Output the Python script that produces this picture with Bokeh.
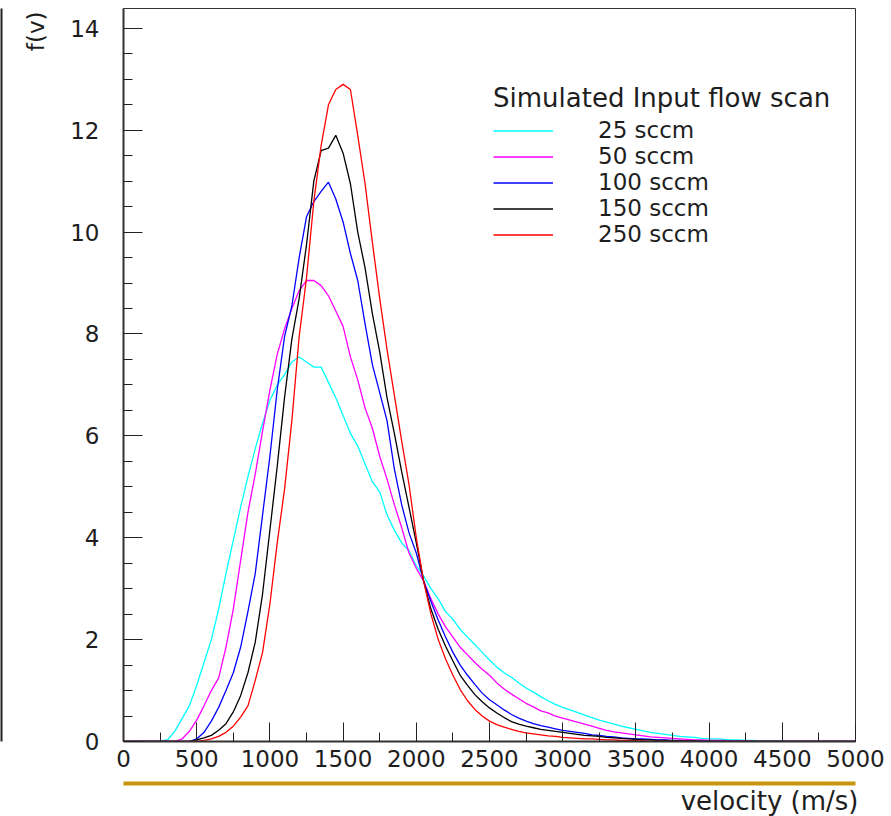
from bokeh.plotting import figure
from bokeh.models import (Legend, LegendItem, SingleIntervalTicker, FixedTicker,
                          LinearAxis, Title, Range1d)
from bokeh.embed import file_html
from bokeh.resources import INLINE

# bin centres (m/s)
velocity = list(range(0, 5001, 50))

f_25sccm = [
    0, 0, 0, 0, 0, 0.01, 0.03, 0.2, 0.45, 0.7,
    1.1, 1.55, 2.0, 2.6, 3.3, 3.95, 4.6, 5.2, 5.75, 6.25,
    6.7, 7.0, 7.2, 7.45, 7.55, 7.45, 7.35, 7.35, 7.05, 6.75,
    6.4, 6.05, 5.8, 5.45, 5.1, 4.9, 4.45, 4.15, 3.9, 3.75,
    3.45, 3.25, 3.0, 2.8, 2.55, 2.4, 2.2, 2.05, 1.9, 1.75,
    1.6, 1.46, 1.35, 1.26, 1.15, 1.05, 0.97, 0.88, 0.8, 0.73,
    0.67, 0.62, 0.57, 0.52, 0.47, 0.42, 0.38, 0.34, 0.3, 0.27,
    0.24, 0.21, 0.18, 0.16, 0.14, 0.12, 0.1, 0.09, 0.08, 0.06,
    0.05, 0.05, 0.04, 0.03, 0.03, 0.02, 0.02, 0.01, 0.01, 0.01,
    0.01, 0, 0, 0, 0, 0, 0, 0, 0, 0,
    0]

f_50sccm = [
    0, 0, 0, 0, 0, 0, 0, 0, 0.05, 0.2,
    0.42, 0.7, 1.0, 1.25, 1.85, 2.6, 3.55, 4.5, 5.25, 6.1,
    6.9, 7.6, 8.1, 8.5, 8.85, 9.05, 9.05, 8.95, 8.75, 8.45,
    8.15, 7.55, 7.1, 6.55, 6.15, 5.6, 5.15, 4.65, 4.2, 3.7,
    3.4, 3.15, 2.8, 2.5, 2.25, 2.05, 1.85, 1.7, 1.55, 1.42,
    1.3, 1.15, 1.03, 0.93, 0.84, 0.75, 0.68, 0.6, 0.56, 0.5,
    0.46, 0.42, 0.38, 0.34, 0.3, 0.26, 0.22, 0.19, 0.17, 0.15,
    0.13, 0.11, 0.09, 0.08, 0.07, 0.06, 0.05, 0.04, 0.03, 0.03,
    0.02, 0.02, 0.02, 0.01, 0.01, 0.01, 0, 0, 0, 0,
    0, 0, 0, 0, 0, 0, 0, 0, 0, 0,
    0]

f_100sccm = [
    0, 0, 0, 0, 0, 0, 0, 0, 0, 0,
    0.05, 0.18, 0.4, 0.67, 1.0, 1.35, 1.85, 2.55, 3.3, 4.45,
    5.6, 6.9, 7.95, 8.55, 9.5, 10.3, 10.6, 10.8, 10.98, 10.65,
    10.2, 9.58, 9.05, 8.2, 7.4, 6.85, 6.3, 5.35, 4.65, 4.1,
    3.7, 3.15, 2.75, 2.38, 2.05, 1.75, 1.5, 1.3, 1.12, 0.95,
    0.82, 0.72, 0.62, 0.53, 0.46, 0.4, 0.35, 0.31, 0.28, 0.25,
    0.22, 0.2, 0.18, 0.16, 0.13, 0.12, 0.1, 0.09, 0.07, 0.06,
    0.05, 0.05, 0.04, 0.03, 0.03, 0.02, 0.02, 0.01, 0.01, 0.01,
    0.01, 0, 0, 0, 0, 0, 0, 0, 0, 0,
    0, 0, 0, 0, 0, 0, 0, 0, 0, 0,
    0]

f_150sccm = [
    0, 0, 0, 0, 0, 0, 0, 0, 0, 0,
    0.03, 0.07, 0.12, 0.22, 0.35, 0.58, 0.9, 1.35, 1.95, 2.9,
    4.15, 5.4, 6.75, 7.9, 8.7, 9.75, 11.0, 11.6, 11.65, 11.9,
    11.55, 10.95, 10.0, 9.3, 8.4, 7.65, 6.75, 6.05, 5.3, 4.6,
    3.9, 3.15, 2.6, 2.2, 1.87, 1.58, 1.3, 1.1, 0.92, 0.78,
    0.66, 0.56, 0.47, 0.39, 0.34, 0.3, 0.27, 0.24, 0.22, 0.2,
    0.18, 0.16, 0.14, 0.12, 0.11, 0.1, 0.08, 0.07, 0.06, 0.05,
    0.04, 0.03, 0.03, 0.02, 0.02, 0.01, 0.01, 0.01, 0.01, 0,
    0, 0, 0, 0, 0, 0, 0, 0, 0, 0,
    0, 0, 0, 0, 0, 0, 0, 0, 0, 0,
    0]

f_250sccm = [
    0, 0, 0, 0, 0, 0, 0, 0, 0, 0,
    0, 0.02, 0.05, 0.1, 0.18, 0.3, 0.48, 0.7, 1.2, 1.75,
    2.7, 3.9, 4.95, 6.3, 7.95, 9.1, 10.6, 11.7, 12.5, 12.8,
    12.9, 12.8, 11.9, 10.95, 9.8, 8.7, 7.7, 6.8, 5.9, 5.05,
    4.0, 3.15, 2.5, 2.0, 1.62, 1.3, 1.02, 0.8, 0.63, 0.5,
    0.4, 0.33, 0.28, 0.24, 0.2, 0.17, 0.15, 0.13, 0.11, 0.1,
    0.08, 0.07, 0.06, 0.05, 0.05, 0.04, 0.03, 0.03, 0.02, 0.02,
    0.01, 0.01, 0, 0, 0, 0, 0, 0, 0, 0,
    0, 0, 0, 0, 0, 0, 0, 0, 0, 0,
    0, 0, 0, 0, 0, 0, 0, 0, 0, 0,
    0]

series_labels = ["25 sccm", "50 sccm", "100 sccm", "150 sccm", "250 sccm"]
series_values = [f_25sccm, f_50sccm, f_100sccm, f_150sccm, f_250sccm]
series_colors = ["#00ffff", "#ff00ff", "#0000ff", "#000000", "#ff0000"]

legend_title = "Simulated Input flow scan"
x_title = "velocity (m/s)"
y_title = "f(v)"

FONT = "DejaVu Sans"
TXT = "#1e1e1e"

p = figure(width=891, height=816, output_backend="svg", toolbar_location=None,
           x_range=Range1d(0, 5000), y_range=Range1d(0, 14.39),
           min_border_left=123, min_border_right=36, min_border_top=8, min_border_bottom=75)
p.background_fill_color = "white"
p.border_fill_color = "white"
p.outline_line_color = "#333333"
p.outline_line_width = 1
p.xgrid.visible = False
p.ygrid.visible = False

renderers = []
for vals, col in zip(series_values, series_colors):
    r = p.line(velocity, vals, line_color=col, line_width=1.3)
    renderers.append(r)

for ax in (p.xaxis[0], p.yaxis[0]):
    ax.axis_line_color = "#333333"
    ax.axis_line_width = 2
    ax.major_tick_in = 19
    ax.major_tick_out = 0
    ax.minor_tick_in = 9
    ax.minor_tick_out = 0
    ax.major_tick_line_color = "#222222"
    ax.minor_tick_line_color = "#222222"
    ax.major_label_text_font = FONT
    ax.major_label_text_font_size = "23px"
    ax.major_label_text_color = TXT

p.xaxis[0].ticker = SingleIntervalTicker(interval=500, num_minor_ticks=2)
p.yaxis[0].ticker = SingleIntervalTicker(interval=2, num_minor_ticks=4)
p.xaxis[0].major_label_standoff = 8
p.yaxis[0].major_label_standoff = 24


def blank_axis(**kw):
    """Tick-less axis used only for its line."""
    return LinearAxis(ticker=FixedTicker(ticks=[]), major_tick_line_color=None,
                      major_tick_out=0, major_tick_in=0,
                      minor_tick_line_color=None, major_label_standoff=0,
                      major_label_text_font_size="0px", **kw)


# spacer (one hair-thin, invisible tick gives it its height) + gold rule
spacer = LinearAxis(ticker=FixedTicker(ticks=[0]), axis_line_color=None,
                    major_tick_out=14, major_tick_in=0,
                    major_tick_line_color="white", major_tick_line_width=0.01,
                    minor_tick_line_color=None, major_label_standoff=0,
                    major_label_overrides={0: ""}, major_label_text_font_size="0px")
p.add_layout(spacer, "below")
p.add_layout(blank_axis(axis_line_color="#c8960c", axis_line_width=4), "below")

# axis titles placed at the axis ends, as in the original
p.add_layout(Title(text=x_title, align="right", offset=-3, standoff=0,
                   text_font=FONT, text_font_size="26px", text_font_style="normal",
                   text_color=TXT), "below")
p.add_layout(Title(text=y_title, align="right", offset=3, standoff=38,
                   text_font=FONT, text_font_size="23px", text_font_style="normal",
                   text_color=TXT), "left")

# page border on the far left
p.add_layout(blank_axis(axis_line_color="#222222", axis_line_width=2), "left")

items = [LegendItem(label=lab, renderers=[r]) for lab, r in zip(series_labels, renderers)]
legend = Legend(items=items, title=legend_title, location=(370, 494),
                background_fill_alpha=0, border_line_color=None, padding=0, margin=0,
                glyph_width=60, glyph_height=25, label_height=25, label_standoff=45,
                spacing=0, title_standoff=4,
                label_text_font=FONT, label_text_font_size="23px", label_text_color=TXT,
                title_text_font=FONT, title_text_font_size="26px",
                title_text_font_style="normal", title_text_color=TXT)
p.add_layout(legend)

open("out.html", "w").write(file_html(p, INLINE))
